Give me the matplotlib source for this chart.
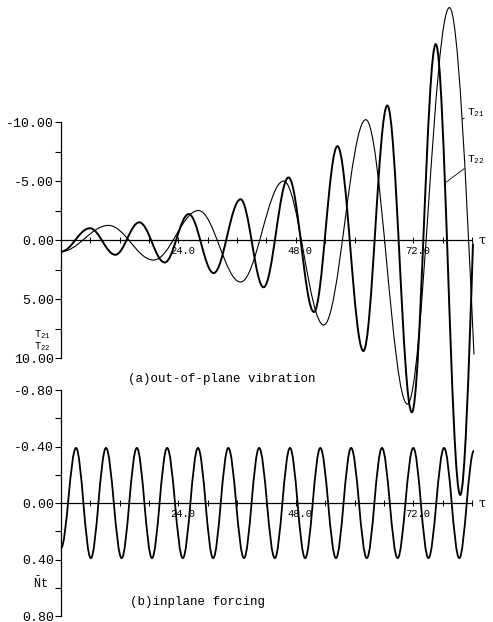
import numpy as np
import matplotlib
matplotlib.use('Agg')
import matplotlib.pyplot as plt
from matplotlib.path import Path
from matplotlib.patches import PathPatch
from matplotlib.transforms import ScaledTranslation

# ---------------- data (extrema and end points) ----------------
t21_tau = [0.0, 9.7, 18.9, 28.1, 36.7, 45.5, 53.7, 62.3, 70.8, 79.4, 84.4]
t21_val = [0.98, -1.24, 1.7, -2.5, 3.56, -5.0, 7.2, -10.2, 13.9, -19.7, 9.7]

t22_tau = [0.0, 5.9, 11.1, 16.0, 21.2, 26.1, 31.2, 36.7, 41.4, 46.5, 51.7,
           56.5, 61.8, 66.7, 71.7, 76.6, 81.6, 84.2]
t22_val = [0.98, -1.0, 1.25, -1.5, 1.9, -2.2, 2.8, -3.45, 4.0, -5.3, 6.1,
           -7.95, 9.4, -11.4, 14.6, -16.6, 21.6, 0.3]

nt_tau = [0.0, 3.07, 6.1, 9.2, 12.4, 15.5, 18.6, 21.7, 24.9, 28.0, 31.1, 34.2,
          37.4, 40.5, 43.7, 46.8, 49.9, 53.0, 56.2, 59.3, 62.5, 65.6, 68.8,
          72.0, 75.1, 78.3, 81.4, 84.4]
nt_val = [0.32, -0.39, 0.39, -0.39, 0.39, -0.39, 0.39, -0.39, 0.39, -0.39, 0.39,
          -0.39, 0.39, -0.39, 0.39, -0.39, 0.39, -0.39, 0.39, -0.39, 0.39, -0.39,
          0.39, -0.39, 0.39, -0.39, 0.39, -0.37]

top_yticks = [-10, -5, 0, 5, 10]
top_ylabels = ['-10.00', '-5.00', '0.00', '5.00', '10.00']
bot_yticks = [-0.8, -0.4, 0.0, 0.4, 0.8]
bot_ylabels = ['-0.80', '-0.40', '0.00', '0.40', '0.80']
x_ticks = [6, 12, 18, 24, 30, 36, 42, 48, 54, 60, 66, 72, 78, 84]
x_labels = ['', '', '', '24.0', '', '', '', '48.0', '', '', '', '72.0', '', '']

# ---------------- style ----------------
plt.rcParams['font.family'] = ['Liberation Mono', 'DejaVu Sans Mono']
plt.rcParams['mathtext.fontset'] = 'custom'
plt.rcParams['mathtext.rm'] = 'Liberation Mono'
plt.rcParams['mathtext.it'] = 'Liberation Mono'

fig = plt.figure(figsize=(4.93, 6.22), dpi=100)
fig.patch.set_facecolor('white')

ax1 = fig.add_axes([0.1237, 0.4244, 0.8337, 0.3794])
ax2 = fig.add_axes([0.1237, 0.0096, 0.8337, 0.3633])


def smooth_path(xs, ys, end_mid=False):
    """Cubic Bezier path through extrema (horizontal tangents)."""
    k = 1 - 2 / np.pi
    verts = [(xs[0], ys[0])]
    codes = [Path.MOVETO]
    n = len(xs)
    for i in range(n - 1):
        x0, y0, x1, y1 = xs[i], ys[i], xs[i + 1], ys[i + 1]
        dx = x1 - x0
        if i == n - 2 and end_mid:
            m1 = (np.pi / 2) * (y1 - y0) / dx
            c1 = (x0 + dx / 3, y0)
            c2 = (x1 - dx / 3, y1 - m1 * dx / 3)
        else:
            c1 = (x0 + k * dx, y0)
            c2 = (x1 - k * dx, y1)
        verts += [c1, c2, (x1, y1)]
        codes += [Path.CURVE4] * 3
    return Path(verts, codes)


def setup(ax, ylim, yticks, ylabels, yminor):
    ax.set_facecolor('none')
    for s in ['top', 'right']:
        ax.spines[s].set_visible(False)
    ax.spines['bottom'].set_position(('data', 0))
    ax.spines['left'].set_bounds(min(ylim), max(ylim))
    for s in ['bottom', 'left']:
        ax.spines[s].set_linewidth(0.9)
    ax.set_xlim(0, 84)
    ax.set_ylim(ylim)
    ax.set_yticks(yticks)
    ax.set_yticklabels(ylabels)
    ax.set_yticks(yminor, minor=True)
    ax.set_xticks(x_ticks)
    ax.set_xticklabels(x_labels)
    ax.tick_params(axis='y', which='both', direction='out', length=4.5,
                   width=0.8, pad=0.5, labelsize=9.5)
    ax.tick_params(axis='x', which='both', direction='inout', length=4,
                   width=0.7, pad=2.5, labelsize=7.5)
    for lab in ax.get_xticklabels():
        lab.set_transform(lab.get_transform() +
                          ScaledTranslation(0.04, 0, fig.dpi_scale_trans))
    ax.text(86.1, 0, 'τ', va='center', ha='center', fontsize=9,
            family=['DejaVu Serif'])


setup(ax1, (10, -10), top_yticks, top_ylabels, [-7.5, -2.5, 2.5, 7.5])
setup(ax2, (0.8, -0.8), bot_yticks, bot_ylabels, [-0.6, -0.2, 0.2, 0.6])

# curves
p21 = PathPatch(smooth_path(t21_tau, t21_val, end_mid=True), fill=False,
                ec='black', lw=0.8, clip_on=False, transform=ax1.transData)
p22 = PathPatch(smooth_path(t22_tau, t22_val, end_mid=True), fill=False,
                ec='black', lw=1.4, clip_on=False, transform=ax1.transData)
ax1.add_patch(p21)
ax1.add_patch(p22)
pnt = PathPatch(smooth_path(nt_tau, nt_val), fill=False, ec='black', lw=1.3,
                clip_on=False, transform=ax2.transData)
ax2.add_patch(pnt)
ax1.set_xlim(0, 84); ax1.set_ylim(10, -10)
ax2.set_xlim(0, 84); ax2.set_ylim(0.8, -0.8)

# curve labels
ax1.annotate('T$_{21}$', xy=(82.0, -10.25), xytext=(83.0, -10.8),
             fontsize=8, va='center', ha='left', annotation_clip=False,
             arrowprops=dict(arrowstyle='-', lw=0.6, shrinkA=0, shrinkB=0))
ax1.annotate('T$_{22}$', xy=(78.7, -4.9), xytext=(83.0, -6.8),
             fontsize=8, va='center', ha='left', annotation_clip=False,
             arrowprops=dict(arrowstyle='-', lw=0.6, shrinkA=0, shrinkB=0))

# axis labels
ax1.text(-3.9, 8.0, 'T$_{21}$', fontsize=7.5, ha='center', va='center', clip_on=False)
ax1.text(-3.9, 9.0, 'T$_{22}$', fontsize=7.5, ha='center', va='center', clip_on=False)
ax2.text(-4.3, 0.57, r'$\bar{\mathrm{N}}$t', fontsize=8.5, ha='center',
         va='center', clip_on=False)

# captions
ax1.text(13.7, 11.8, '(a)out-of-plane vibration', fontsize=9, ha='left',
         va='center', clip_on=False)
ax2.text(14.1, 0.70, '(b)inplane forcing', fontsize=9, ha='left',
         va='center', clip_on=False)

fig.savefig('out.png', dpi=100, facecolor='white')
